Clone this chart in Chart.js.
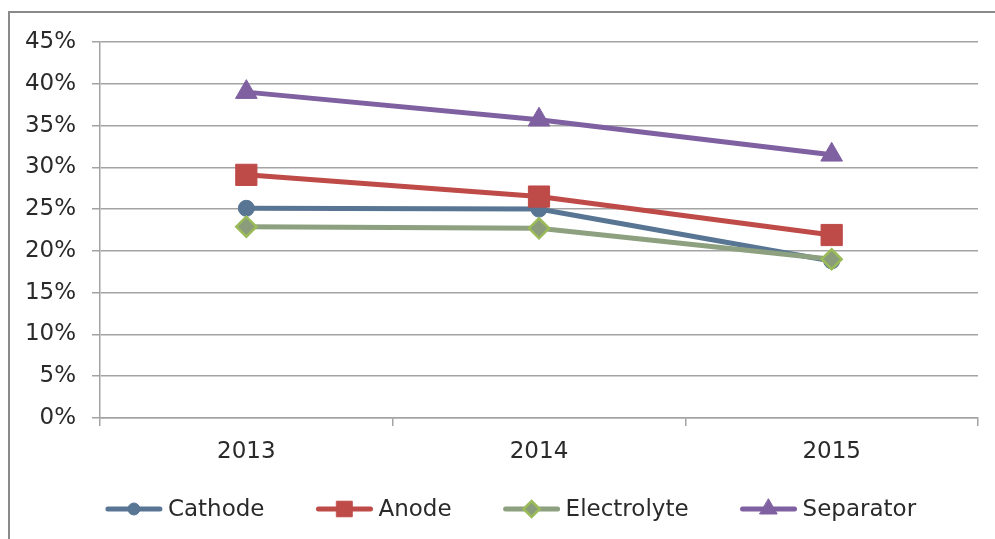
<!DOCTYPE html>
<html>
<head>
<meta charset="utf-8">
<script src="https://cdn.jsdelivr.net/npm/chart.js@4.4.1/dist/chart.umd.min.js"></script>
<style>
  html, body { margin: 0; padding: 0; background: #fff; }
  #wrap { position: relative; width: 995px; height: 539px; overflow: hidden; }
  #frame { position: absolute; left: 8px; top: 11px; width: 1100px; height: 700px; border: 2px solid #8a8a8a; box-sizing: border-box; }
  canvas { position: absolute; left: 0; top: 0; }
</style>
</head>
<body>
<div id="wrap">
  <div id="frame"></div>
  <canvas id="lineChart" width="995" height="539"></canvas>
</div>
<script>
const years = ['2013', '2014', '2015'];

const cathode = [25.1, 25.0, 18.8];
const anode = [29.1, 26.5, 21.9];
const electrolyte = [22.9, 22.7, 19.0];
const separator = [39.0, 35.7, 31.5];

const yTicks = [0, 5, 10, 15, 20, 25, 30, 35, 40, 45];

const font = 'DejaVu Sans';
const textColor = '#2a2a2a';
const ctx = document.getElementById('lineChart').getContext('2d');

// legend drawn by hand: a line with the marker in the middle, like the office chart
const lineLegend = {
    id: 'lineLegend',
    afterDraw(chart) {
        const c = chart.ctx;
        c.save();
        c.font = '23px "' + font + '"';
        const lineW = 56, gap = 6, spacing = 52;
        const items = chart.data.datasets.map(ds => ({ ds, w: lineW + gap + c.measureText(ds.label).width }));
        const total = items.reduce((s, it) => s + it.w, 0) + spacing * (items.length - 1);
        let x = 511 - total / 2;
        const y = 509;
        items.forEach(it => {
            const ds = it.ds;
            c.strokeStyle = ds.borderColor;
            c.lineWidth = 5;
            c.lineCap = 'round';
            c.beginPath();
            c.moveTo(x + 2, y);
            c.lineTo(x + lineW - 2, y);
            c.stroke();
            c.fillStyle = ds.pointBackgroundColor;
            c.strokeStyle = ds.pointBorderColor;
            c.lineWidth = ds.pointBorderWidth;
            Chart.helpers.drawPoint(c, { pointStyle: ds.pointStyle, radius: ds.legendRadius, borderWidth: ds.pointBorderWidth, rotation: 0 }, x + lineW / 2, y);
            c.fillStyle = textColor;
            c.textBaseline = 'middle';
            c.textAlign = 'left';
            c.fillText(ds.label, x + lineW + gap, y + 1);
            x += it.w + spacing;
        });
        c.restore();
    }
};

new Chart(ctx, {
    type: 'line',
    data: {
        labels: years,
        datasets: [
            {
                label: 'Cathode',
                data: cathode,
                borderColor: '#587594',
                borderWidth: 5,
                pointStyle: 'circle',
                pointRadius: 8,
                legendRadius: 6,
                pointBackgroundColor: '#587594',
                pointBorderColor: '#587594',
                pointBorderWidth: 1,
                order: 4
            },
            {
                label: 'Anode',
                data: anode,
                borderColor: '#be4b48',
                borderWidth: 5,
                pointStyle: 'rect',
                pointRadius: 15,
                legendRadius: 11,
                pointBackgroundColor: '#be4b48',
                pointBorderColor: '#be4b48',
                pointBorderWidth: 1,
                order: 3
            },
            {
                label: 'Electrolyte',
                data: electrolyte,
                borderColor: '#8da07f',
                borderWidth: 5,
                pointStyle: 'rectRot',
                pointRadius: 10,
                legendRadius: 8,
                pointBackgroundColor: '#8a9c7c',
                pointBorderColor: '#9bbb59',
                pointBorderWidth: 2.5,
                order: 2
            },
            {
                label: 'Separator',
                data: separator,
                borderColor: '#7f60a1',
                borderWidth: 5,
                pointStyle: 'triangle',
                pointRadius: 12.5,
                legendRadius: 10,
                pointBackgroundColor: '#7f60a1',
                pointBorderColor: '#7f60a1',
                pointBorderWidth: 1,
                order: 1
            }
        ]
    },
    options: {
        responsive: false,
        animation: false,
        layout: { padding: { top: 42, right: 17, bottom: 60, left: 0 } },
        plugins: {
            legend: { display: false },
            tooltip: { enabled: false }
        },
        elements: { line: { tension: 0 } },
        scales: {
            x: {
                offset: true,
                grid: {
                    offset: true,
                    drawOnChartArea: false,
                    color: '#a3a3a3',
                    lineWidth: 1.5,
                    tickLength: 8
                },
                border: { color: '#a3a3a3', width: 1.5 },
                ticks: { color: textColor, font: { family: font, size: 23 }, padding: 12 },
                afterFit(scale) { scale.height = 539 - 60 - 418; }
            },
            y: {
                min: 0,
                max: 45,
                afterBuildTicks(scale) { scale.ticks = yTicks.map(v => ({ value: v })); },
                grid: { color: '#a3a3a3', lineWidth: 1.5, tickLength: 8 },
                border: { color: '#a3a3a3', width: 1.5 },
                ticks: {
                    color: textColor,
                    font: { family: font, size: 23 },
                    padding: 16,
                    callback: v => v + '%'
                },
                afterFit(scale) { scale.width = 100; }
            }
        }
    },
    plugins: [lineLegend]
});
</script>
</body>
</html>
